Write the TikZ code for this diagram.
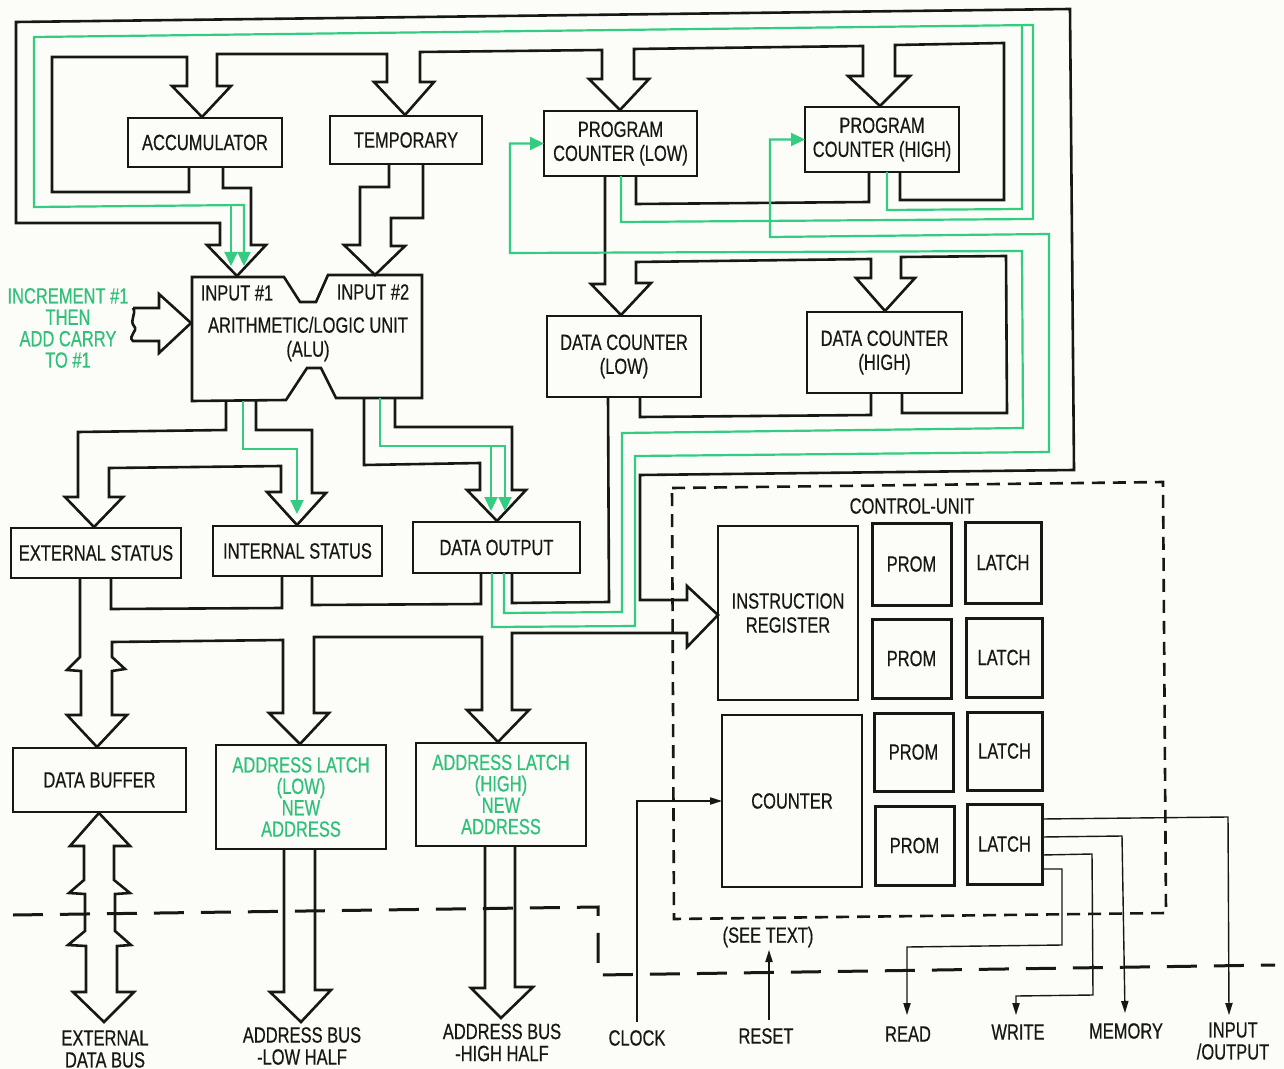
\documentclass[tikz,border=0pt]{standalone}
\usepackage{fontspec}
\setmainfont{Liberation Sans}[FakeStretch=0.75,FakeBold=0.5]
\usetikzlibrary{arrows.meta,calc}
\definecolor{ink}{RGB}{22,24,20}
\definecolor{grn}{RGB}{52,204,128}
\definecolor{gtxt}{RGB}{48,192,122}
\definecolor{paper}{RGB}{252,253,248}
\newcommand\lblfont{\fontsize{11}{12}\selectfont}
\newcommand\glfont{\fontsize{11}{10.7}\selectfont}
\newcommand\btfont{\fontsize{11}{11}\selectfont}
\newcommand\mkbox[7][bx]{\node[#1, minimum width={(#5-#3)*0.5pt}, minimum height={(#6-#4)*0.5pt}] (#2) at ({(#3+#5)/2},{(#4+#6)/2}) {#7};}
\begin{document}
\begin{tikzpicture}[x=0.5pt,y=-0.5pt,
  bx/.style={draw=ink, line width=1.25pt, inner sep=0pt, outer sep=0pt, align=center, font=\lblfont, text=ink},
  cellbx/.style={bx, line width=1.5pt},
  wall/.style={draw=ink, line width=1.3pt, line join=miter},
  gline/.style={draw=grn, line width=1.1pt},
  garr/.style={gline, -{Triangle[length=7pt,width=6.5pt]}},
  sig/.style={draw=ink, line width=0.7pt},
  sigarr/.style={sig, -{Triangle[length=6pt,width=3.6pt]}},
  txt/.style={inner sep=0pt, align=center, font=\lblfont, text=ink},
  btxt/.style={txt, font=\btfont},
  gtx/.style={txt, text=gtxt, font=\glfont},
  cudash/.style={draw=ink, line width=1.3pt, dash pattern=on 6.5pt off 4pt},
  bdash/.style={draw=ink, line width=1.5pt, dash pattern=on 15pt off 8.5pt}]
\fill[paper] (0,0) rectangle (1284,1069);
\useasboundingbox (0,0) rectangle (1284,1069);

% ---------- boxes ----------
\mkbox{acc}{128}{118}{282}{167}{ACCUMULATOR}
\mkbox{tmp}{330}{116}{482}{164}{TEMPORARY}
\mkbox{pcl}{544}{111}{697}{176}{PROGRAM\\COUNTER (LOW)}
\mkbox{pch}{805}{107}{959}{172}{PROGRAM\\COUNTER (HIGH)}
\mkbox{dcl}{547}{316}{701}{397}{DATA COUNTER\\(LOW)}
\mkbox{dch}{807}{312}{962}{393}{DATA COUNTER\\(HIGH)}
\mkbox{exts}{11}{528}{181}{578}{EXTERNAL STATUS}
\mkbox{ints}{213}{526}{382}{576}{INTERNAL STATUS}
\mkbox{dout}{413}{522}{580}{573}{DATA OUTPUT}
\mkbox{dbuf}{13}{748}{186}{812}{DATA BUFFER}
\mkbox[bx,text=gtxt,font=\glfont]{all}{216}{745}{386}{849}{ADDRESS LATCH\\(LOW)\\NEW\\ADDRESS}
\mkbox[bx,text=gtxt,font=\glfont]{alh}{416}{743}{586}{846}{ADDRESS LATCH\\(HIGH)\\NEW\\ADDRESS}
\mkbox{ir}{718}{526}{858}{700}{INSTRUCTION\\REGISTER}
\mkbox{cnt}{722}{715}{862}{887}{COUNTER}
\mkbox[cellbx]{proma}{872}{523}{951}{605}{PROM}
\mkbox[cellbx]{lcha}{965}{522}{1041}{603}{LATCH}
\mkbox[cellbx]{promb}{872}{619}{951}{698}{PROM}
\mkbox[cellbx]{lchb}{966}{618}{1042}{697}{LATCH}
\mkbox[cellbx]{promc}{874}{713}{953}{791}{PROM}
\mkbox[cellbx]{lchc}{967}{712}{1042}{790}{LATCH}
\mkbox[cellbx]{promd}{875}{806}{954}{885}{PROM}
\mkbox[cellbx]{lchd}{967}{804}{1042}{884}{LATCH}

% ---------- ALU ----------
\draw[wall] (192,277) -- (284,277) -- (300,302) -- (316,302) -- (328,275) -- (422,275) -- (422,398) -- (336,398) -- (321,368) -- (307,368) -- (286,400) -- (192,401) -- cycle;
\node[txt] (in1) at (237,293) {INPUT \#1};
\node[txt] (in2) at (373,292) {INPUT \#2};
\node[txt] (alu) at (308,339) {ARITHMETIC/LOGIC UNIT\\(ALU)};

% ---------- increment input ----------
\node[gtx] (inc) at (68,328) {INCREMENT \#1\\THEN\\ADD CARRY\\TO \#1};
\draw[wall] (133,308) -- (159,308) -- (159,294) -- (191,323) -- (159,353) -- (159,341) -- (133,341) .. controls (127,336) and (139,331) .. (134,326) .. controls (129,320) and (137,314) .. (133,308);

% ---------- black bus walls ----------
\draw[wall] (237,276) -- (207,245) -- (220,245) -- (220,223) -- (16,223) -- (16,22) -- (1070,9) -- (1074,470) -- (640,475) -- (640,600) -- (687,600) -- (687,586) -- (718,615) -- (687,647) -- (687,633) -- (512,633) -- (512,710) -- (529,710) -- (498,742) -- (467,710) -- (482,710) -- (482,637) -- (314,637) -- (314,713) -- (329,713) -- (300,744) -- (269,713) -- (283,713) -- (283,640) -- (112,642) -- (112,657) -- (125,669) -- (112,671) -- (112,715) -- (127,715) -- (97,747) -- (67,715) -- (81,715) -- (81,671) -- (67,670) -- (80,657) -- (80,578);
\draw[wall] (189,167) -- (189,192) -- (52,192) -- (52,57) -- (187,57) -- (187,86) -- (172,86) -- (202,117) -- (231,86) -- (217,86) -- (217,54) -- (387,54) -- (387,82) -- (374,82) -- (405,115) -- (434,82) -- (420,82) -- (420,52) -- (602,50) -- (602,79) -- (589,79) -- (620,110) -- (649,79) -- (634,79) -- (634,49) -- (863,46) -- (863,76) -- (848,76) -- (880,106) -- (910,76) -- (895,76) -- (895,45) -- (1004,43) -- (1004,200) -- (900,200) -- (900,172);
\draw[wall] (223,167) -- (223,188) -- (251,188) -- (251,245) -- (266,245) -- (237,276);
\draw[wall] (389,164) -- (389,187) -- (360,187) -- (360,245) -- (344,245) -- (375,275) -- (405,246) -- (391,246) -- (391,218) -- (423,218) -- (423,164);
\draw[wall] (605,176) -- (605,284) -- (591,284) -- (621,315) -- (651,283) -- (636,283) -- (636,262) -- (871,259) -- (871,278) -- (856,278) -- (885,311) -- (915,278) -- (901,278) -- (901,257) -- (1006,256) -- (1007,413) -- (902,413) -- (902,393);
\draw[wall] (636,176) -- (636,204) -- (869,202) -- (869,172);
\draw[wall] (640,397) -- (640,417) -- (871,415) -- (871,393);
\draw[wall] (608,397) -- (609,602) -- (512,603) -- (512,573);
\draw[wall] (481,573) -- (481,604) -- (312,605) -- (312,576);
\draw[wall] (282,576) -- (282,608) -- (111,609) -- (111,578);
\draw[wall] (226,401) -- (226,430) -- (78,432) -- (78,497) -- (65,497) -- (94,527) -- (123,497) -- (109,497) -- (109,468) -- (281,466) -- (281,492) -- (267,492) -- (297,525) -- (326,493) -- (312,493) -- (312,430) -- (256,430) -- (256,401);
\draw[wall] (364,398) -- (364,465) -- (480,463) -- (480,490) -- (467,490) -- (497,521) -- (526,490) -- (512,490) -- (512,427) -- (395,427) -- (395,398);
\draw[wall] (284,849) -- (284,992) -- (270,992) -- (301,1022) -- (331,990) -- (315,990) -- (315,849);
\draw[wall] (485,846) -- (485,988) -- (471,988) -- (501,1018) -- (533,987) -- (515,987) -- (515,846);
\draw[wall] (99,813) -- (70,846) -- (84,846) -- (84,880) -- (69,893) -- (85,894) -- (85,931) -- (68,945) -- (86,946) -- (86,992) -- (73,992) -- (104,1022) -- (134,992) -- (117,992) -- (117,946) -- (131,945) -- (115,931) -- (115,894) -- (130,893) -- (114,880) -- (114,846) -- (130,846) -- cycle;

% ---------- green paths ----------
\draw[garr] (621,176) -- (621,222) -- (1033,219) -- (1033,25) -- (34,37) -- (34,207) -- (244,205) -- (244,266);
\draw[garr] (231,206) -- (231,266);
\draw[gline] (887,172) -- (887,210) -- (1022,209) -- (1022,26);
\draw[garr] (243,401) -- (243,449) -- (297,449) -- (297,514);
\draw[garr] (380,398) -- (380,446) -- (505,446) -- (505,511);
\draw[garr] (491,446) -- (491,511);
\draw[garr] (504,573) -- (504,613) -- (622,612) -- (622,433) -- (1023,428) -- (1022,251) -- (510,253) -- (510,143.5) -- (pcl.west);
\draw[garr] (492,573) -- (492,627) -- (635,626) -- (635,456) -- (1049,452) -- (1049,234) -- (770,237) -- (770,139.5) -- (pch.west);

% ---------- control unit ----------
\draw[cudash] (672,488) -- (1163,482) -- (1166,913) -- (674,919) -- cycle;
\node[txt] (cu) at (912,506) {CONTROL-UNIT};

% ---------- boundary ----------
\draw[bdash] (13,915) -- (598,907) -- (598,975) -- (1275,965);

% ---------- signals ----------
\node[btxt] (clk) at (637,1038) {CLOCK};
\node[btxt] (rst) at (766,1036) {RESET};
\node[btxt] (see) at (768,937) {(SEE TEXT)};
\node[btxt] (rd) at (908,1034) {READ};
\node[btxt] (wr) at (1018,1032) {WRITE};
\node[btxt] (mem) at (1126,1031) {MEMORY};
\node[btxt] (io) at (1233,1041) {INPUT\\/OUTPUT};
\node[btxt] (xdb) at (105,1049) {EXTERNAL\\DATA BUS};
\node[btxt] (abl) at (302,1046) {ADDRESS BUS\\-LOW HALF};
\node[btxt] (abh) at (502,1042.5) {ADDRESS BUS\\-HIGH HALF};

\draw[sigarr] (637,1022) -- (637,801) -- (cnt.west);
\draw[sigarr] (769,1020) -- (769,950);
\draw[sigarr] ($(lchd.east)+(0,-25)$) -- (1228,817) -- (1229,1015);
\draw[sigarr] ($(lchd.east)+(0,-7)$) -- (1122,836) -- (1125,1013);
\draw[sigarr] ($(lchd.east)+(0,11)$) -- (1092,854) -- (1093,995) -- (1016,996) -- (1016,1015);
\draw[sigarr] ($(lchd.east)+(0,25)$) -- (1062,869) -- (1062,945) -- (907,947) -- (907,1015);
\end{tikzpicture}
\end{document}
